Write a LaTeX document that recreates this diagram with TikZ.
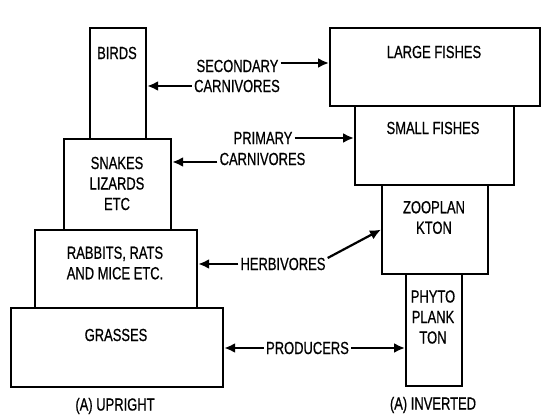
\documentclass[tikz,border=0pt]{standalone}
\usepackage{fontspec}
\setmainfont{Liberation Sans}[FakeStretch=0.74,FakeBold=0.6]
\usetikzlibrary{arrows.meta}
\begin{document}
\begin{tikzpicture}[x=1pt,y=-1pt,
  box/.style={draw, line width=2.2pt, inner sep=0pt, anchor=north west, rectangle},
  txt/.style={inner sep=2pt, align=center, font=\fontsize{17.5}{20.5}\selectfont},
  arr/.style={line width=2.2pt, -{Latex[length=11pt,width=10pt]}}]
\useasboundingbox (0,0) rectangle (549,419);
% upright
\node[box, minimum width=56, minimum height=111] (birds) at (89,27) {};
\node[box, minimum width=107, minimum height=91] (snakes) at (63,138) {};
\node[box, minimum width=162, minimum height=78] (rabbits) at (34,229) {};
\node[box, minimum width=212, minimum height=79] (grasses) at (10,307) {};
\node[txt] (tbirds) at (117,53) {BIRDS};
\node[txt] (tsnakes) at (117,183.5) {SNAKES\\LIZARDS\\ETC};
\node[txt] (trabbits) at (115,263) {RABBITS, RATS\\AND MICE ETC.};
\node[txt] (tgrasses) at (116,335) {GRASSES};
\node[txt] (up) at (115,406) {(A) UPRIGHT};
% inverted
\node[box, minimum width=210, minimum height=78] (large) at (329,27) {};
\node[box, minimum width=159, minimum height=79] (small) at (354,105) {};
\node[box, minimum width=106, minimum height=89] (zoo) at (381,184) {};
\node[box, minimum width=56, minimum height=112] (phyto) at (405,273) {};
\node[txt] (tlarge) at (434,52) {LARGE FISHES};
\node[txt] (tsmall) at (433,128) {SMALL FISHES};
\node[txt] (tzoo) at (434,217.5) {ZOOPLAN\\KTON};
\node[txt] (tphyto) at (433,317) {PHYTO\\PLANK\\TON};
\node[txt] (inv) at (433,405) {(A) INVERTED};
% middle labels
\node[txt] (sec1) at (237.5,66) {SECONDARY};
\node[txt] (sec2) at (237,86) {CARNIVORES};
\node[txt] (pri1) at (263,138) {PRIMARY};
\node[txt] (pri2) at (262.5,159) {CARNIVORES};
\node[txt] (herb) at (283,264) {HERBIVORES};
\node[txt] (prod) at (307.5,348) {PRODUCERS};
% connector end points
\coordinate (s1e) at ([yshift=3pt]sec1.east);
\coordinate (p2w) at ([yshift=-3pt]pri2.west);
\coordinate (he) at ([yshift=6pt]herb.east);
% arrows
\draw[arr] (s1e) -- (large.west |- s1e);
\draw[arr] (sec2.west) -- (birds.east |- sec2.west);
\draw[arr] (pri1.east) -- (small.west |- pri1.east);
\draw[arr] (p2w) -- (snakes.east |- p2w);
\draw[arr] (herb.west) -- (rabbits.east |- herb.west);
\draw[arr] (he) -- (zoo.west);
\draw[arr] (prod.west) -- (grasses.east |- prod.west);
\draw[arr] (prod.east) -- (phyto.west |- prod.east);
\end{tikzpicture}
\end{document}
